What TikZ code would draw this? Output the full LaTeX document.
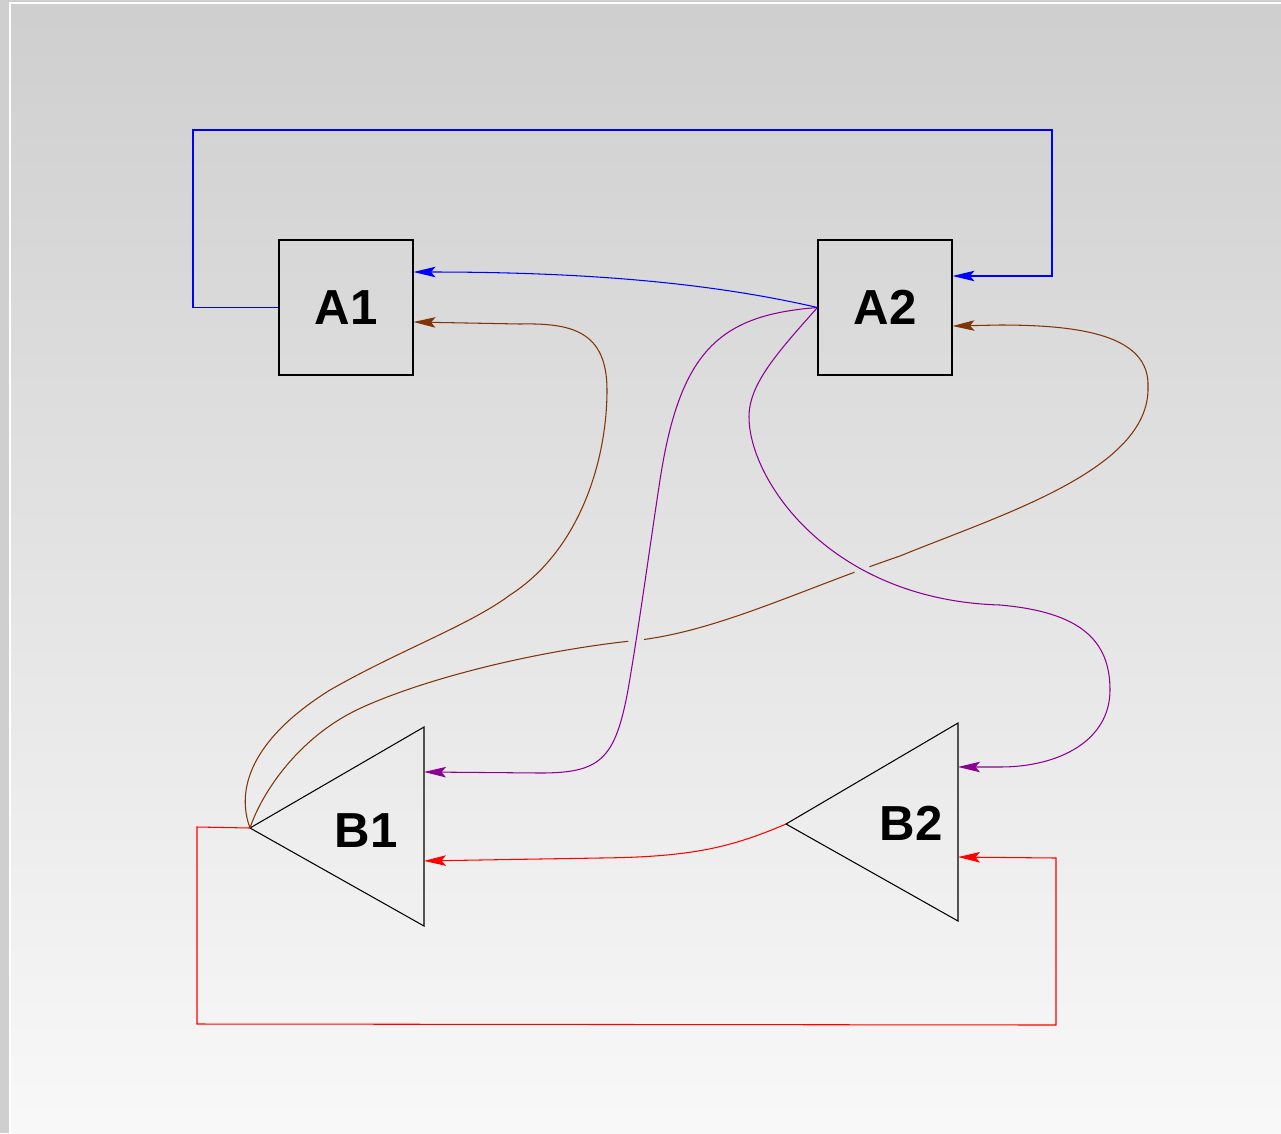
\documentclass[tikz,border=0pt]{standalone}
\usepackage{fontspec}
\newfontfamily\lblfont{Liberation Sans}
\usetikzlibrary{arrows.meta, calc, intersections}

\definecolor{bgtop}{gray}{0.81}
\definecolor{bgbot}{gray}{0.975}
\definecolor{brn}{RGB}{128,52,8}
\definecolor{prp}{RGB}{140,0,150}

\tikzset{
	lbl/.style={font=\lblfont\bfseries\fontsize{28}{34}\selectfont, inner sep=0pt},
	box/.style={draw, line width=0.6pt, minimum width=2.68cm, minimum height=2.70cm, inner sep=0pt, lbl},
	wire/.style={line width=0.6pt, -{Stealth[length=0.44cm, width=0.21cm, inset=0.09cm]}},
}

\begin{document}
\begin{tikzpicture}[x=0.02cm, y=-0.02cm]
	%%% Sfondo
	\useasboundingbox (0,0) rectangle (1281,1133);
	\fill[bgtop] (0,0) rectangle (1281,1133);
	\shade[top color=bgtop, bottom color=bgbot] (11,4) rectangle (1290,1140);
	\draw[white, line width=1.2pt] (10,1140) -- (10,3) -- (1290,3);

	%%% Blocchi
	\node[box] (A1) at (346,307.5) {A1};
	\node[box] (A2) at (885,307.5) {A2};

	\coordinate (B1apex) at (250,828);	% vertice B1
	\coordinate (B1top) at (424,727);
	\coordinate (B1bot) at (424,926);
	\coordinate (B2apex) at (786,824);	% vertice B2
	\coordinate (B2top) at (958,723);
	\coordinate (B2bot) at (958,921);
	\draw[line width=0.6pt] (B1apex) -- (B1top) -- (B1bot) -- cycle;
	\draw[line width=0.6pt] (B2apex) -- (B2top) -- (B2bot) -- cycle;
	\node[lbl] (B1) at (366,830.5) {B1};
	\node[lbl] (B2) at (911,823.5) {B2};

	%%% Ingressi
	\coordinate (B1inP) at ($(B1top)!0.226!(B1bot)$);
	\coordinate (B1inR) at ($(B1top)!0.673!(B1bot)$);
	\coordinate (B2inP) at ($(B2top)!0.222!(B2bot)$);
	\coordinate (B2inR) at ($(B2top)!0.677!(B2bot)$);

	%%% Collegamenti marroni
	\draw[wire, brn] (B1apex) .. controls (236,790) and (250,740) .. (330,690)
		.. controls (400,650) and (470,625) .. (510,595)
		.. controls (580,550) and (607,460) .. (607,390)
		.. controls (607,330) and (570,323) .. (520,324) -- ($(A1.east)+(0,14.5)$);
	\draw[wire, brn, name path=brown2] (B1apex) .. controls (262,792) and (300,735) .. (363,707)
		.. controls (430,677) and (540,650) .. (640,640)
		.. controls (720,630) and (800,590) .. (900,556)
		.. controls (1000,515) and (1150,470) .. (1148,387)
		.. controls (1150,335) and (1080,325) .. (1000,325) -- ($(A2.east)+(0,18.5)$);

	%%% Interruzioni agli incroci
	\path[name path=purple1] (A2.west) .. controls (720,315) and (680,350) .. (660,480)
		.. controls (650,545) and (640,620) .. (628,690)
		.. controls (615,760) and (600,773) .. (540,773) -- (B1inP);
	\path[name path=purple2] (A2.west) .. controls (775,355) and (749,385) .. (749,417)
		.. controls (749,480) and (830,600) .. (1000,605)
		.. controls (1080,612) and (1110,640) .. (1110,690)
		.. controls (1110,740) and (1060,767) .. (1000,767) -- (B2inP);
	\fill[fill=black!10, name intersections={of=brown2 and purple1, by=X1}] (X1) circle[radius=0.16cm];
	\fill[fill=black!11, name intersections={of=brown2 and purple2, by=X2}] (X2) circle[radius=0.16cm];

	%%% Collegamenti viola
	\draw[wire, prp] (A2.west) .. controls (720,315) and (680,350) .. (660,480)
		.. controls (650,545) and (640,620) .. (628,690)
		.. controls (615,760) and (600,773) .. (540,773) -- (B1inP);
	\draw[wire, prp] (A2.west) .. controls (775,355) and (749,385) .. (749,417)
		.. controls (749,480) and (830,600) .. (1000,605)
		.. controls (1080,612) and (1110,640) .. (1110,690)
		.. controls (1110,740) and (1060,767) .. (1000,767) -- (B2inP);

	%%% Collegamenti blu
	\draw[wire, blue] (A1.west) -- (193,307.5) -- (193,130) -- (1052,130) -- (1052,276) -- ($(A2.east)+(0,-31.5)$);
	\draw[wire, blue] (A2.west) .. controls (720,285) and (600,272) .. ($(A1.east)+(0,-35.5)$);

	%%% Collegamenti rossi
	\draw[wire, red] (B2apex) .. controls (730,848) and (690,857) .. (600,858) -- (B1inR);
	\draw[wire, red] (B1apex) -- (197,827) -- (197,1024) -- (1056,1025) -- (1056,858) -- (B2inR);
\end{tikzpicture}
\end{document}
